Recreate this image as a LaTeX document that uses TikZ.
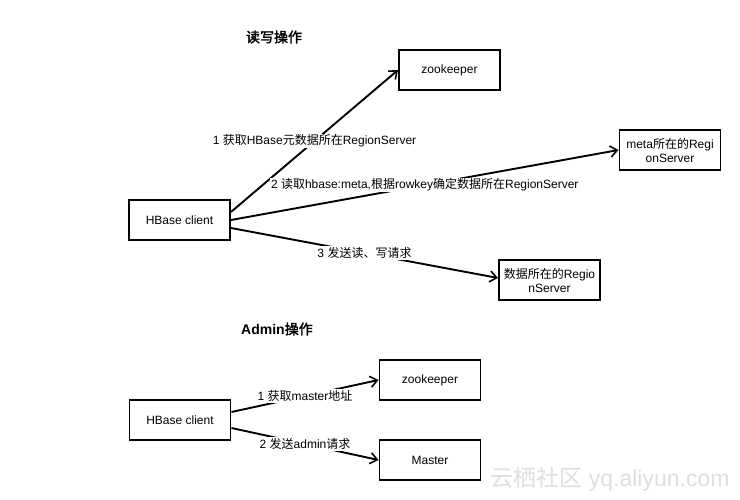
\documentclass[tikz,border=0pt]{standalone}
\usepackage{fontspec}
\setmainfont{Liberation Sans}
\newfontfamily\cjk{Noto Sans CJK SC}[AutoFakeBold=2]
\usetikzlibrary{arrows.meta}
\begin{document}
\begin{tikzpicture}[x=1pt,y=-1pt,
  box/.style={draw=black, line width=1.9pt, minimum width=101pt, minimum height=40pt, inner sep=1pt, align=center, font=\fontsize{12}{14}\selectfont},
  conn/.style={line width=1.9pt, -{Straight Barb[length=7pt,width=11pt,line width=1.6pt]}},
  lbl/.style={midway, fill=white, inner sep=1pt, font=\fontsize{12}{14}\selectfont},
  ttl/.style={font=\fontsize{14}{16}\selectfont\bfseries}]
\useasboundingbox (0,0) rectangle (740,500);
% titles
\node[ttl] (t1) at (274,37) {{\cjk\bfseries 读写操作}};
\node[ttl] (t2) at (277,329) {Admin{\cjk\bfseries 操作}};
% boxes
\node[box] (c1) at (179.5,220) {HBase client};
\node[box] (z1) at (449.5,70) {zookeeper};
\node[box] (m1) at (670,150) {meta{\cjk 所在的}Regi\\onServer};
\node[box] (d1) at (549.5,280) {{\cjk 数据所在的}Regio\\nServer};
\node[box] (c2) at (180,420) {HBase client};
\node[box] (z2) at (430,380) {zookeeper};
\node[box] (ma) at (430,460) {Master};
% connectors
\draw[conn] ([yshift=8pt]c1.east) -- (z1.west) node[lbl] (l1) {1 {\cjk 获取}HBase{\cjk 元数据所在}RegionServer};
\draw[conn] (c1.east) -- (m1.west) node[lbl] (l2) {2 {\cjk 读取}hbase:meta,{\cjk 根据}rowkey{\cjk 确定数据所在}RegionServer};
\draw[conn] ([yshift=-8pt]c1.east) -- ([yshift=2pt]d1.west) node[lbl] (l3) {3 {\cjk 发送读、写请求}};
\draw[conn] ([yshift=8pt]c2.east) -- (z2.west) node[lbl] (l4) {1 {\cjk 获取}master{\cjk 地址}};
\draw[conn] ([yshift=-8pt]c2.east) -- (ma.west) node[lbl] (l5) {2 {\cjk 发送}admin{\cjk 请求}};
% watermark
\node[text=black!13, font=\fontsize{23}{26}\selectfont] (wm) at (610,479) {{\cjk 云栖社区} yq.aliyun.com};
\end{tikzpicture}
\end{document}
